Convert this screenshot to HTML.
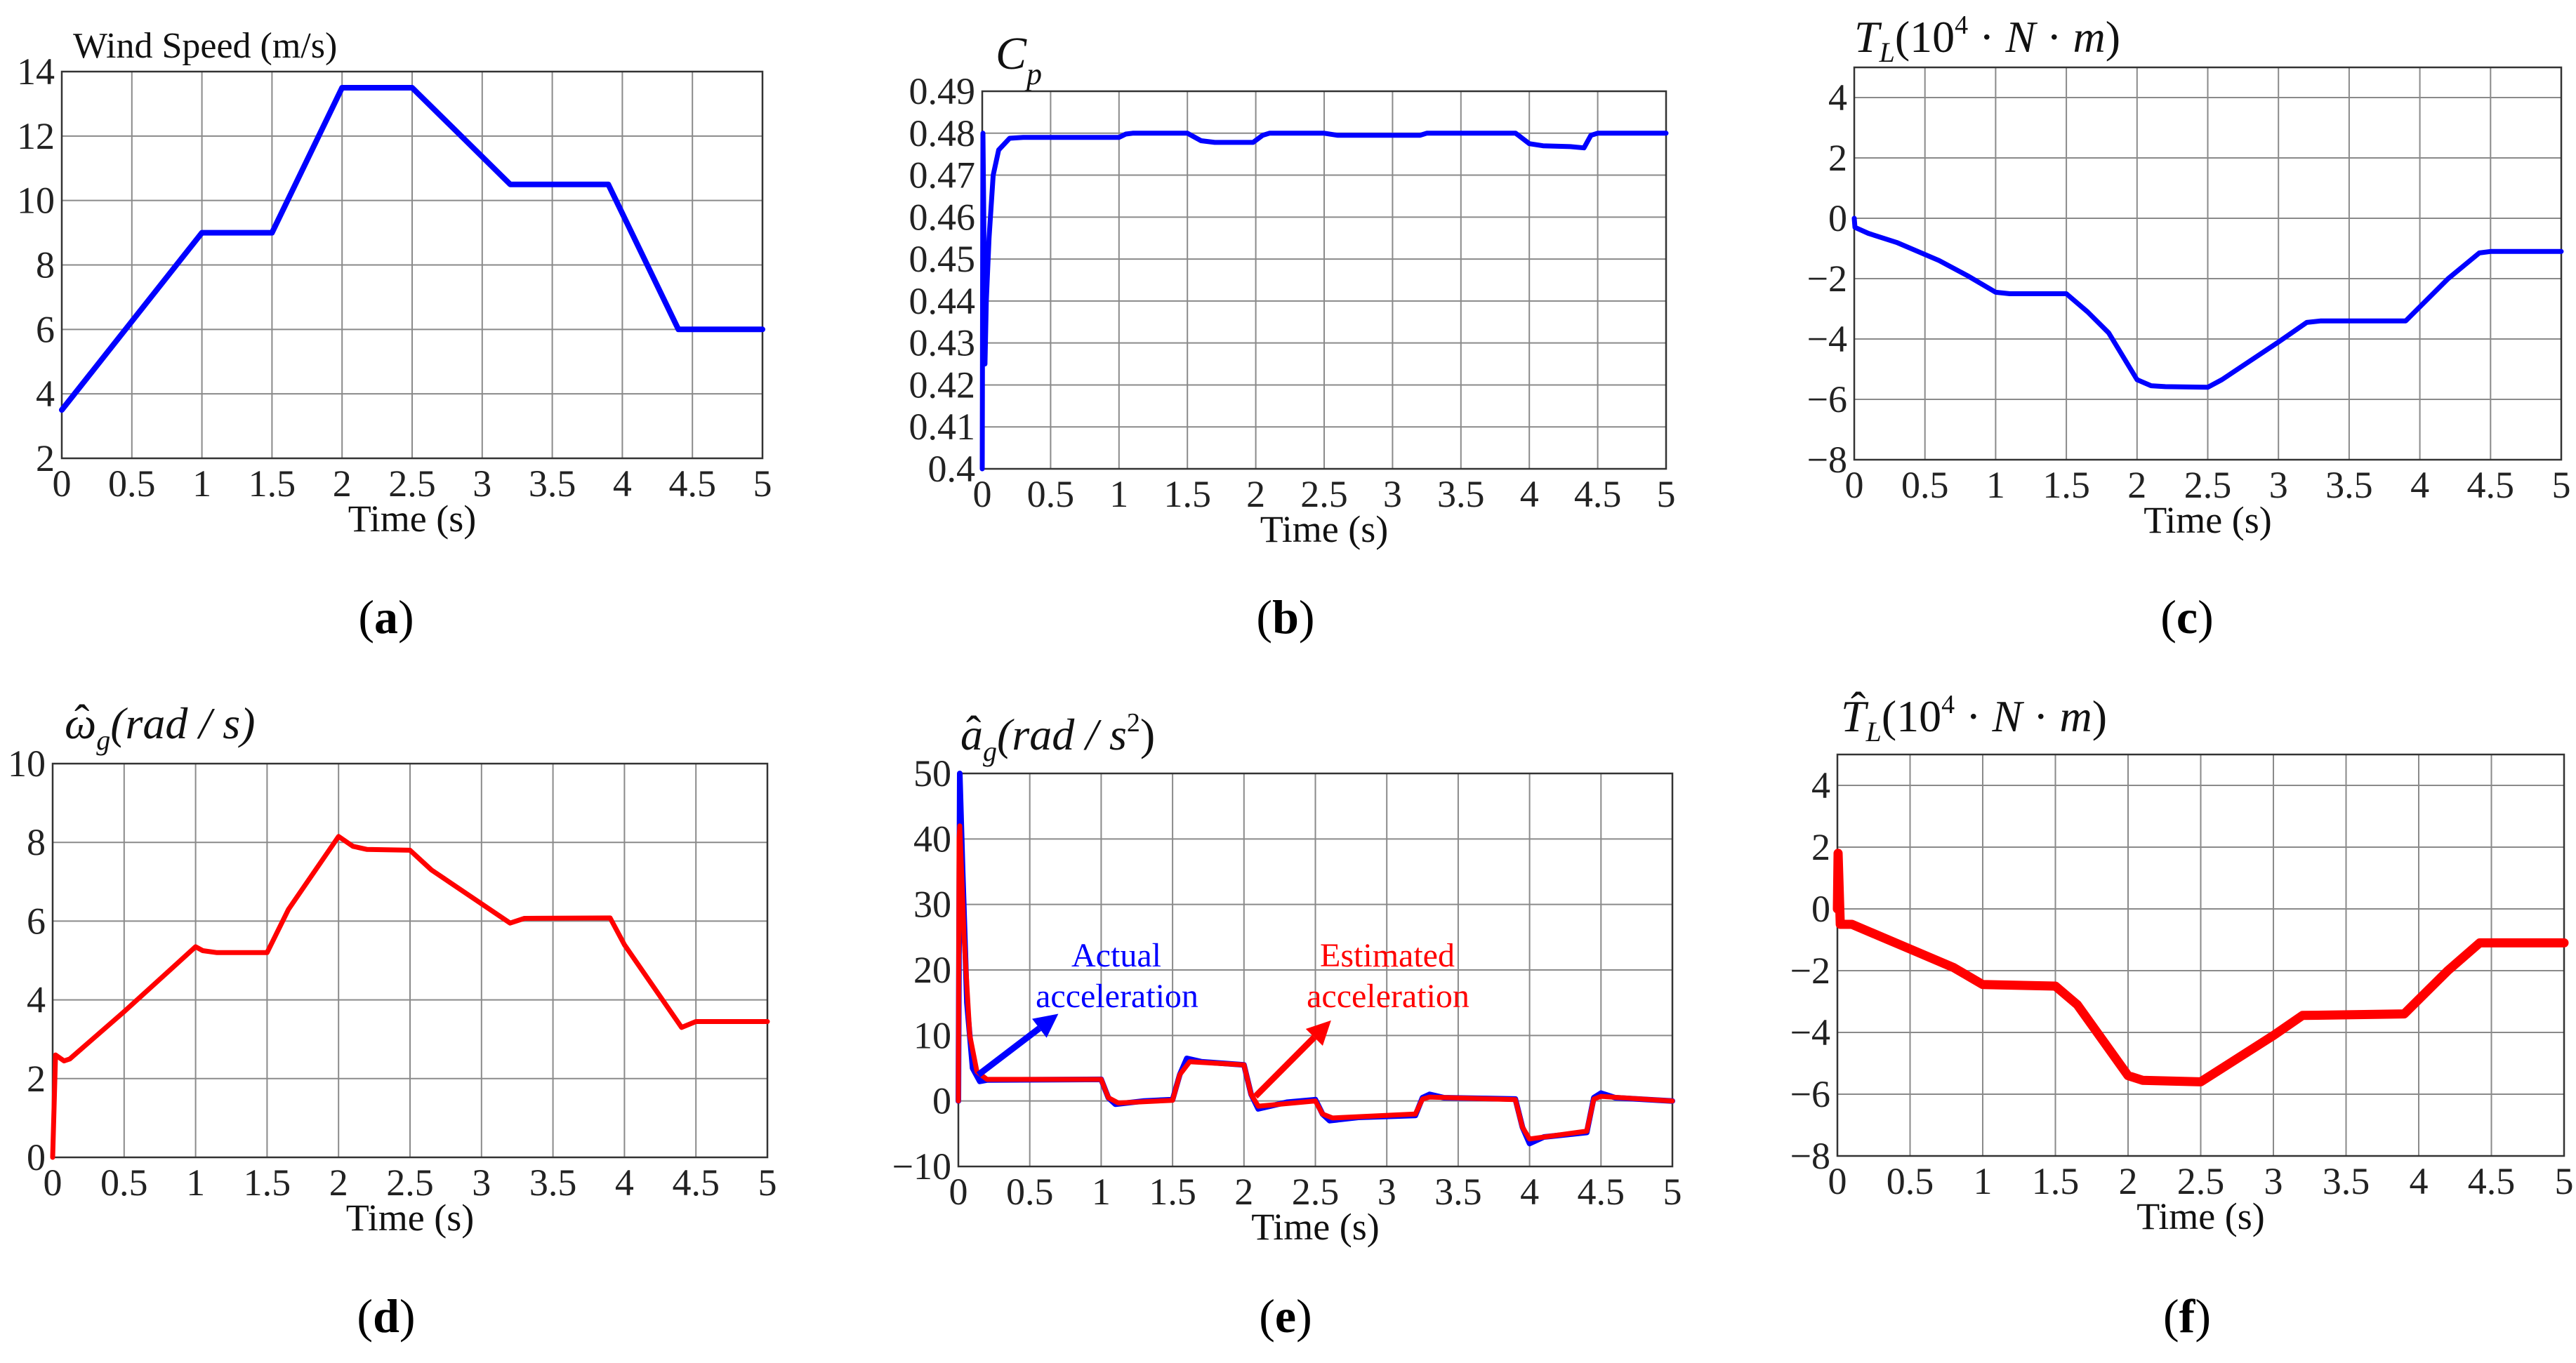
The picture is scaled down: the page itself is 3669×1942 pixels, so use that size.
<!DOCTYPE html>
<html><head><meta charset="utf-8">
<style>
html,body{margin:0;padding:0;background:#fff;}
svg{display:block;font-family:"Liberation Serif","Times New Roman",serif;}
svg text{font-family:"Liberation Serif","Times New Roman",serif;}
</style></head>
<body>
<svg id="fig" xmlns="http://www.w3.org/2000/svg" width="3669" height="1942" viewBox="0 0 3669 1942" font-family="Liberation Serif, serif"></svg>
<script>
// ---- chart data (top-level arrays) ----
const timeTicks = [0,0.5,1,1.5,2,2.5,3,3.5,4,4.5,5];
const timeTickLabels = ["0","0.5","1","1.5","2","2.5","3","3.5","4","4.5","5"];

const windT = [0,1,1.5,2,2.5,2.85,3.2,3.9,4.4,5];
const windV = [3.5,9,9,13.5,13.5,12,10.5,10.5,6,6];
const windTicks = [2,4,6,8,10,12,14];
const windTickLabels = ["2","4","6","8","10","12","14"];

const cpT = [0,0.005,0.01,0.02,0.03,0.05,0.08,0.12,0.2,0.3,1.0,1.05,1.1,1.5,1.6,1.7,1.98,2.05,2.1,2.5,2.6,3.2,3.25,3.9,4.0,4.1,4.3,4.4,4.45,4.5,5];
const cpV = [0.40,0.48,0.465,0.425,0.44,0.455,0.47,0.476,0.4788,0.479,0.479,0.4798,0.48,0.48,0.4782,0.4778,0.4778,0.4795,0.48,0.48,0.4795,0.4795,0.48,0.48,0.4775,0.477,0.4768,0.4765,0.4795,0.48,0.48];
const cpTicks = [0.4,0.41,0.42,0.43,0.44,0.45,0.46,0.47,0.48,0.49];
const cpTickLabels = ["0.4","0.41","0.42","0.43","0.44","0.45","0.46","0.47","0.48","0.49"];

const tlT = [0,0.005,0.1,0.3,0.6,0.8,1.0,1.1,1.5,1.65,1.8,2.0,2.1,2.2,2.5,2.6,3.0,3.2,3.3,3.9,4.2,4.42,4.5,5];
const tlV = [0,-0.3,-0.5,-0.8,-1.4,-1.9,-2.45,-2.5,-2.5,-3.1,-3.8,-5.35,-5.55,-5.58,-5.6,-5.35,-4.1,-3.45,-3.4,-3.4,-2.0,-1.15,-1.1,-1.1];
const torqueTicks = [-8,-6,-4,-2,0,2,4];
const torqueTickLabels = ["\u22128","\u22126","\u22124","\u22122","0","2","4"];

const omT = [0,0.02,0.08,0.12,0.5,1.0,1.05,1.15,1.5,1.65,2.0,2.1,2.2,2.5,2.65,3.2,3.3,3.9,4.0,4.4,4.5,5];
const omV = [0,2.6,2.45,2.5,3.7,5.35,5.25,5.2,5.2,6.3,8.15,7.9,7.82,7.8,7.3,5.95,6.07,6.08,5.4,3.3,3.45,3.45];
const omTicks = [0,2,4,6,8,10];
const omTickLabels = ["0","2","4","6","8","10"];

const accActT = [0,0.01,0.03,0.06,0.1,0.15,0.2,1.0,1.05,1.1,1.3,1.5,1.55,1.6,1.7,2.0,2.05,2.1,2.3,2.5,2.55,2.6,2.8,3.2,3.25,3.3,3.4,3.9,3.95,4.0,4.1,4.4,4.45,4.5,4.6,5];
const accActV = [0,50,35,15,5,3,3.2,3.3,0.5,-0.5,0,0.2,4,6.5,6,5.5,1,-1.2,-0.2,0.2,-2,-3,-2.5,-2.2,0.5,1,0.5,0.3,-4,-6.5,-5.5,-4.8,0.5,1.2,0.5,0];
const accEstT = [0,0.005,0.01,0.04,0.08,0.13,0.2,1.0,1.05,1.12,1.5,1.55,1.62,2.0,2.05,2.1,2.5,2.55,2.62,3.2,3.25,3.3,3.9,3.95,4.0,4.4,4.45,4.5,5];
const accEstV = [0,40,42,25,10,4.5,3.3,3.3,0.5,-0.3,0.1,4,6,5.5,1,-0.8,0,-2,-2.6,-2,0.3,0.6,0.2,-4,-5.8,-4.6,0.3,0.7,0];
const accTicks = [-10,0,10,20,30,40,50];
const accTickLabels = ["\u221210","0","10","20","30","40","50"];
const actualArrowT = [0.14,0.70];
const actualArrowV = [4.0,13.3];
const estArrowT = [2.08,2.61];
const estArrowV = [0.7,12.3];

const tlhT = [0,0.005,0.02,0.1,0.3,0.5,0.8,1.0,1.5,1.65,2.0,2.1,2.5,3.0,3.2,3.9,4.2,4.42,5];
const tlhV = [0,1.8,-0.5,-0.5,-0.9,-1.3,-1.9,-2.45,-2.5,-3.1,-5.4,-5.55,-5.6,-4.1,-3.45,-3.4,-2.0,-1.1,-1.1];

// ---- drawing ----
const NS = "http://www.w3.org/2000/svg";
const fig = document.getElementById('fig');
const FONT = 'Liberation Serif, Times New Roman, serif';
function mk(tag, attrs, parent){
  const e = document.createElementNS(NS, tag);
  for (const k in attrs) e.setAttribute(k, attrs[k]);
  if (tag==='text') e.setAttribute('font-family', FONT);
  (parent||fig).appendChild(e);
  return e;
}
function axes(L,R,T,B,xmin,xmax,ymin,ymax){
  return {x:v=>L+(v-xmin)/(xmax-xmin)*(R-L), y:v=>B-(v-ymin)/(ymax-ymin)*(B-T)};
}
function panel(name,L,R,T,B,ymin,ymax,yTicks,yLabels){
  const g = mk('g',{});
  
  
  const ax = axes(L,R,T,B,0,5,ymin,ymax);
  timeTicks.forEach((t,i)=>{
    const x = ax.x(t);
    const l = mk('line',{x1:x,x2:x,y1:T,y2:B,stroke:'#8a8a8a','stroke-width':2},g);
    
    
    const tx = mk('text',{x:x,y:B+54,'font-size':54,'text-anchor':'middle',fill:'#222'},g);
    tx.textContent = timeTickLabels[i];
    
    
  });
  yTicks.forEach((v,i)=>{
    const y = ax.y(v);
    const l = mk('line',{x1:L,x2:R,y1:y,y2:y,stroke:'#8a8a8a','stroke-width':2},g);
    
    
    const tx = mk('text',{x:L-10,y:y+18,'font-size':54,'text-anchor':'end',fill:'#222'},g);
    tx.textContent = yLabels[i];
    
    
  });
  const fr = mk('rect',{x:L,y:T,width:R-L,height:B-T,fill:'none',stroke:'#333','stroke-width':2.5},g);
  
  
  const xt = mk('text',{x:(L+R)/2,y:B+104,'font-size':54,'text-anchor':'middle',fill:'#111'},g);
  xt.textContent = 'Time (s)';
  
  
  return {g, ax};
}
function series(p,ts,vs,color,w,name){
  const d = ts.map((t,i)=>(i?'L':'M')+p.ax.x(t).toFixed(1)+','+p.ax.y(vs[i]).toFixed(1)).join(' ');
  const path = mk('path',{d:d,fill:'none',stroke:color,'stroke-width':w,'stroke-linejoin':'round','stroke-linecap':'round'},p.g);
  
  
}
function label(x,y,html,size,name,anchor){
  const t = mk('text',{x:x,y:y,'font-size':size,fill:'#111','text-anchor':anchor||'start'});
  t.innerHTML = html;
  
  
  return t;
}
function arrow(p,ts,vs,color,name){
  const x1=p.ax.x(ts[0]),y1=p.ax.y(vs[0]),x2=p.ax.x(ts[1]),y2=p.ax.y(vs[1]);
  const a=Math.atan2(y2-y1,x2-x1), hl=34, hw=17;
  const bx=x2-hl*Math.cos(a), by=y2-hl*Math.sin(a);
  const g = mk('g',{},p.g);
  
  
  mk('line',{x1:x1,y1:y1,x2:bx,y2:by,stroke:color,'stroke-width':9},g);
  mk('polygon',{points:`${x2},${y2} ${bx-hw*Math.sin(a)},${by+hw*Math.cos(a)} ${bx+hw*Math.sin(a)},${by-hw*Math.cos(a)}`,fill:color},g);
}

// (a)
const pa = panel('wind-speed-chart',88,1086,102,653,2,14,windTicks,windTickLabels);
series(pa,windT,windV,'#0000ff',8,'wind-speed-line');
label(104,82,'Wind Speed (m/s)',52,'wind-speed-title');
// (b)
const pb = panel('cp-chart',1399,2373,130,668,0.4,0.49,cpTicks,cpTickLabels);
series(pb,cpT,cpV,'#0000ff',7,'cp-line');
label(1418,98,'<tspan font-style="italic" font-size="66">C</tspan><tspan font-style="italic" font-size="44" dy="22">p</tspan>',66,'cp-title');
// (c)
const pc = panel('load-torque-chart',2641,3648,96,655,-8,5,torqueTicks,torqueTickLabels);
series(pc,tlT,tlV,'#0000ff',7,'load-torque-line');
label(2641,74,'<tspan font-style="italic">T</tspan><tspan font-style="italic" font-size="40" dy="14">L</tspan><tspan dy="-14">(10</tspan><tspan font-size="38" dy="-26">4</tspan><tspan dy="26"> · </tspan><tspan font-style="italic">N</tspan><tspan> · </tspan><tspan font-style="italic">m</tspan>)',64,'load-torque-title');
// (d)
const pd = panel('generator-speed-chart',75,1093,1088,1649,0,10,omTicks,omTickLabels);
series(pd,omT,omV,'#ff0000',7,'estimated-speed-line');
label(92,1052,'<tspan font-style="italic">ω</tspan><tspan font-style="italic" font-size="40" dy="16">g</tspan><tspan dy="-16" font-style="italic">(rad / s)</tspan>',64,'generator-speed-title');
label(106,1048,'ˆ',64,'omega-hat');
// (e)
const pe = panel('acceleration-chart',1365,2382,1102,1662,-10,50,accTicks,accTickLabels);
series(pe,accActT,accActV,'#0000ff',8,'actual-acceleration-line');
series(pe,accEstT,accEstV,'#ff0000',7,'estimated-acceleration-line');
arrow(pe,actualArrowT,actualArrowV,'#0000ff','actual-arrow');
arrow(pe,estArrowT,estArrowV,'#ff0000','estimated-arrow');
label(1590,1377,'Actual',48,'actual-annotation','middle').setAttribute('fill','#0000ff');
label(1591,1435,'acceleration',48,'actual-annotation-2','middle').setAttribute('fill','#0000ff');
label(1976,1377,'Estimated',48,'estimated-annotation','middle').setAttribute('fill','#ff0000');
label(1977,1435,'acceleration',48,'estimated-annotation-2','middle').setAttribute('fill','#ff0000');
label(1368,1068,'<tspan font-style="italic">a</tspan><tspan font-style="italic" font-size="40" dy="16">g</tspan><tspan dy="-16" font-style="italic">(rad / s</tspan><tspan font-size="38" dy="-26">2</tspan><tspan dy="26">)</tspan>',64,'acceleration-title');
label(1376,1064,'ˆ',64,'a-hat');
// (f)
const pf = panel('estimated-torque-chart',2617,3652,1075,1647,-8,5,torqueTicks,torqueTickLabels);
series(pf,tlhT,tlhV,'#ff0000',13,'estimated-torque-line');
label(2622,1042,'<tspan font-style="italic">T</tspan><tspan font-style="italic" font-size="40" dy="14">L</tspan><tspan dy="-14">(10</tspan><tspan font-size="38" dy="-26">4</tspan><tspan dy="26"> · </tspan><tspan font-style="italic">N</tspan><tspan> · </tspan><tspan font-style="italic">m</tspan>)',64,'estimated-torque-title');
label(2636,1030,'ˆ',64,'t-hat');

// captions
[['(a)',550,902],['(b)',1831,902],['(c)',3115,902],['(d)',550,1898],['(e)',1831,1898],['(f)',3115,1898]].forEach(c=>{
  const t = mk('text',{x:c[1],y:c[2],'font-size':68,'text-anchor':'middle',fill:'#000'});
  t.innerHTML = '(<tspan font-weight="bold">'+c[0][1]+'</tspan>)';
  
  
});
</script>
</body></html>
